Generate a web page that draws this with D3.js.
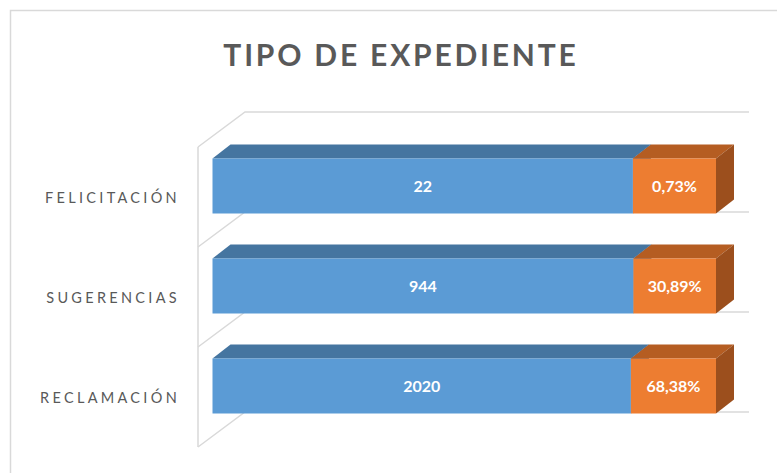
<!DOCTYPE html>
<html>
<head>
<meta charset="utf-8">
<script src="https://cdn.jsdelivr.net/npm/d3@7"></script>
<style>
  html, body { margin: 0; padding: 0; background: #fff; }
  svg { display: block; font-family: Lato, "Open Sans", sans-serif; }
</style>
</head>
<body>
<svg id="chart" width="777" height="473"></svg>
<script>
// Tipo de expediente: 3D stacked bars
const categories = ['FELICITACIÓN', 'SUGERENCIAS', 'RECLAMACIÓN'];
const counts = [22, 944, 2020];
const pctLabels = ['0,73%', '30,89%', '68,38%'];
// share of each bar taken by the blue segment, as drawn (percent of full bar)
const blueShare = [83.5, 83.6, 83.1];
const orangeShare = [16.5, 16.4, 16.9];

const svg = d3.select('#chart');
const W = 777, H = 473;

// chart frame
svg.append('rect')
  .attr('x', 10.5).attr('y', 10.5)
  .attr('width', W + 20).attr('height', H + 20)
  .attr('fill', '#fff').attr('stroke', '#d9d9d9').attr('stroke-width', 1.5);

svg.append('text')
  .attr('x', 401).attr('y', 66)
  .attr('text-anchor', 'middle')
  .attr('fill', '#595959')
  .attr('font-size', 30).attr('font-weight', 700)
  .attr('letter-spacing', 2.8)
  .text('TIPO DE EXPEDIENTE');

// scales
const x = d3.scaleLinear().domain([0, 100]).range([212.5, 716]);
const y = d3.scaleBand().domain(categories).range([136, 436]).paddingInner(0.45).paddingOuter(0.225);

// depth of the bars and of the back wall
const bdx = 18, bdy = 14;
const wdx = 47, wdy = 35;
const wallX = 198;
const wallTop = 147, wallBottom = 447;
const gridY = d3.scaleLinear().domain([0, 3]).range([wallTop, wallBottom]);

const grid = svg.append('g').attr('stroke', '#d9d9d9').attr('stroke-width', 1.5).attr('fill', 'none');
d3.range(4).forEach(i => {
  const yy = gridY(i);
  grid.append('path')
    .attr('d', `M${wallX},${yy}L${wallX + wdx},${yy - wdy}L749,${yy - wdy}`);
});
grid.append('line')
  .attr('x1', wallX).attr('x2', wallX)
  .attr('y1', wallTop).attr('y2', wallBottom);

// segments
const segs = [];
categories.forEach((c, i) => {
  segs.push({ cat: c, x0: 0, x1: blueShare[i], front: '#5b9bd5', top: '#4575a0', side: '#3f6f9a', label: String(counts[i]) });
  segs.push({ cat: c, x0: blueShare[i], x1: blueShare[i] + orangeShare[i], front: '#ed7d31', top: '#b55d22', side: '#9c4f1d', label: pctLabels[i] });
});

const bars = svg.append('g');
segs.forEach(s => {
  const x0 = x(s.x0), x1 = x(s.x1);
  const y0 = y(s.cat), h = y.bandwidth();
  const g = bars.append('g');
  // top face
  g.append('path')
    .attr('d', `M${x0},${y0}L${x0 + bdx},${y0 - bdy}L${x1 + bdx},${y0 - bdy}L${x1},${y0}Z`)
    .attr('fill', s.top);
  // side face
  g.append('path')
    .attr('d', `M${x1},${y0}L${x1 + bdx},${y0 - bdy}L${x1 + bdx},${y0 + h - bdy}L${x1},${y0 + h}Z`)
    .attr('fill', s.side);
  // front face
  g.append('rect')
    .attr('x', x0).attr('y', y0)
    .attr('width', x1 - x0).attr('height', h)
    .attr('fill', s.front);
  g.append('text')
    .attr('x', (x0 + x1) / 2).attr('y', y0 + h / 2)
    .attr('dy', '0.35em')
    .attr('text-anchor', 'middle')
    .attr('fill', '#fff')
    .attr('font-size', 16).attr('font-weight', 700)
    .text(s.label);
});

// category labels
svg.append('g').selectAll('text')
  .data(categories)
  .join('text')
  .attr('x', 180)
  .attr('y', d => y(d) + y.bandwidth() / 2 + 12)
  .attr('dy', '0.35em')
  .attr('text-anchor', 'end')
  .attr('fill', '#595959')
  .attr('font-size', 14.5)
  .attr('letter-spacing', 3.3)
  .text(d => d);
</script>
</body>
</html>
